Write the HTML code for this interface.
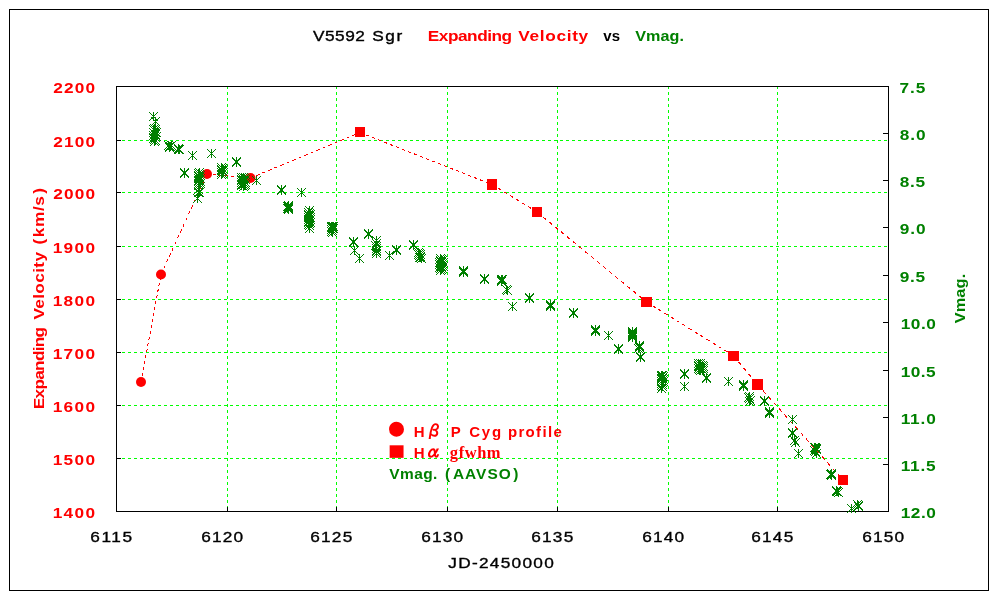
<!DOCTYPE html>
<html lang="en"><head><meta charset="utf-8"><title>V5592 Sgr Expanding Velocity vs Vmag.</title>
<style>
html,body{margin:0;padding:0;background:#fff;}
body{width:1000px;height:600px;overflow:hidden;position:relative;}
svg{position:absolute;left:0;top:0;display:block;}
text{font-family:"Liberation Sans","IPAGothic",sans-serif;font-size:15px;white-space:pre;}
.b{font-weight:bold;}
.r{fill:#ff0000;}
.g{fill:#008000;}
.k{fill:#000000;}
.n{stroke:#000;stroke-width:0.35px;}
.gr{font-family:"IPAGothic","Liberation Sans",sans-serif;font-weight:bold;font-size:17px;}
.sf{font-family:"Liberation Serif","IPAGothic",serif;font-weight:bold;font-size:16.5px;}
.mk{font-family:"IPAGothic","Liberation Sans",sans-serif;font-size:18px;}
</style></head><body>
<svg width="1000" height="600" viewBox="0 0 1000 600">
<rect x="0" y="0" width="1000" height="600" fill="#ffffff"/>
<g shape-rendering="crispEdges" fill="none" stroke="#000" stroke-width="1">
<rect x="9.5" y="9.5" width="979" height="581"/>
</g>
<g shape-rendering="crispEdges" fill="none" stroke="#00ff00" stroke-width="1" stroke-dasharray="3 3">
<line x1="227.5" y1="86" x2="227.5" y2="511"/>
<line x1="336.5" y1="86" x2="336.5" y2="511"/>
<line x1="447.5" y1="86" x2="447.5" y2="511"/>
<line x1="557.5" y1="86" x2="557.5" y2="511"/>
<line x1="668.5" y1="86" x2="668.5" y2="511"/>
<line x1="777.5" y1="86" x2="777.5" y2="511"/>
<line x1="116" y1="140.5" x2="888" y2="140.5"/>
<line x1="116" y1="192.5" x2="888" y2="192.5"/>
<line x1="116" y1="246.5" x2="888" y2="246.5"/>
<line x1="116" y1="299.5" x2="888" y2="299.5"/>
<line x1="116" y1="352.5" x2="888" y2="352.5"/>
<line x1="116" y1="405.5" x2="888" y2="405.5"/>
<line x1="116" y1="458.5" x2="888" y2="458.5"/>
</g>
<g shape-rendering="crispEdges" fill="none" stroke="#000" stroke-width="1">
<rect x="116.5" y="86.5" width="772.0" height="425.0"/>
<line x1="117" y1="140.5" x2="121" y2="140.5"/>
<line x1="117" y1="192.5" x2="121" y2="192.5"/>
<line x1="117" y1="246.5" x2="121" y2="246.5"/>
<line x1="117" y1="299.5" x2="121" y2="299.5"/>
<line x1="117" y1="352.5" x2="121" y2="352.5"/>
<line x1="117" y1="405.5" x2="121" y2="405.5"/>
<line x1="117" y1="458.5" x2="121" y2="458.5"/>
<line x1="227.5" y1="507" x2="227.5" y2="511"/>
<line x1="336.5" y1="507" x2="336.5" y2="511"/>
<line x1="447.5" y1="507" x2="447.5" y2="511"/>
<line x1="557.5" y1="507" x2="557.5" y2="511"/>
<line x1="668.5" y1="507" x2="668.5" y2="511"/>
<line x1="777.5" y1="507" x2="777.5" y2="511"/>
<line x1="883" y1="133.5" x2="888" y2="133.5"/>
<line x1="883" y1="180.5" x2="888" y2="180.5"/>
<line x1="883" y1="227.5" x2="888" y2="227.5"/>
<line x1="883" y1="275.5" x2="888" y2="275.5"/>
<line x1="883" y1="322.5" x2="888" y2="322.5"/>
<line x1="883" y1="370.5" x2="888" y2="370.5"/>
<line x1="883" y1="417.5" x2="888" y2="417.5"/>
<line x1="883" y1="464.5" x2="888" y2="464.5"/>
</g>
<g fill="none" stroke="#ff0000" stroke-width="1" shape-rendering="crispEdges">
<line x1="141.0" y1="382.0" x2="161.0" y2="274.5" stroke-dasharray="3.05 3.05"/>
<line x1="161.0" y1="274.5" x2="207.0" y2="174.0" stroke-dasharray="3.30 3.30"/>
<line x1="207.0" y1="174.0" x2="250.5" y2="178.0" stroke-dasharray="3.01 3.01"/>
<line x1="250.5" y1="178.0" x2="360.0" y2="132.6" stroke-dasharray="3.25 3.25"/>
<line x1="360.0" y1="132.6" x2="492.0" y2="184.5" stroke-dasharray="3.22 3.22"/>
<line x1="492.0" y1="184.5" x2="537.0" y2="212.0" stroke-dasharray="3.52 3.52"/>
<line x1="537.0" y1="212.0" x2="646.5" y2="302.0" stroke-dasharray="3.88 3.88"/>
<line x1="646.5" y1="302.0" x2="733.5" y2="355.8" stroke-dasharray="3.53 3.53"/>
<line x1="733.5" y1="355.8" x2="757.5" y2="384.5" stroke-dasharray="3.91 3.91"/>
<line x1="757.5" y1="384.5" x2="843.0" y2="480.0" stroke-dasharray="4.03 4.03"/>
</g>
<g fill="#ff0000">
<circle cx="141" cy="382" r="5"/>
<circle cx="161" cy="274.5" r="5"/>
<circle cx="207" cy="174" r="5"/>
<circle cx="250.5" cy="178" r="5"/>
</g><g fill="#ff0000" shape-rendering="crispEdges">
<rect x="355" y="127" width="10" height="10"/>
<rect x="487" y="179" width="10" height="11"/>
<rect x="532" y="207" width="10" height="10"/>
<rect x="641" y="297" width="11" height="10"/>
<rect x="728" y="351" width="11" height="10"/>
<rect x="752" y="379" width="11" height="11"/>
<rect x="838" y="475" width="10" height="10"/>
</g>
<path d="M153.5,112.0v9M149.0,112.0l9,9M149.0,121.0l9,-9M153.5,125.0v9M149.0,125.0l9,9M149.0,134.0l9,-9M153.5,128.0v9M149.0,128.0l9,9M149.0,137.0l9,-9M153.5,131.0v9M149.0,131.0l9,9M149.0,140.0l9,-9M153.5,134.0v9M149.0,134.0l9,9M149.0,143.0l9,-9M154.5,124.0v9M150.0,124.0l9,9M150.0,133.0l9,-9M154.5,126.0v9M150.0,126.0l9,9M150.0,135.0l9,-9M154.5,129.0v9M150.0,129.0l9,9M150.0,138.0l9,-9M154.5,132.0v9M150.0,132.0l9,9M150.0,141.0l9,-9M154.5,135.0v9M150.0,135.0l9,9M150.0,144.0l9,-9M154.5,137.0v9M150.0,137.0l9,9M150.0,146.0l9,-9M155.5,117.0v9M151.0,117.0l9,9M151.0,126.0l9,-9M155.5,125.0v9M151.0,125.0l9,9M151.0,134.0l9,-9M155.5,127.0v9M151.0,127.0l9,9M151.0,136.0l9,-9M155.5,130.0v9M151.0,130.0l9,9M151.0,139.0l9,-9M155.5,133.0v9M151.0,133.0l9,9M151.0,142.0l9,-9M155.5,136.0v9M151.0,136.0l9,9M151.0,145.0l9,-9M156.5,128.0v9M152.0,128.0l9,9M152.0,137.0l9,-9M156.5,132.0v9M152.0,132.0l9,9M152.0,141.0l9,-9M168.5,141.0v9M164.0,141.0l9,9M164.0,150.0l9,-9M169.5,142.0v9M165.0,142.0l9,9M165.0,151.0l9,-9M169.5,143.0v9M165.0,143.0l9,9M165.0,152.0l9,-9M170.5,142.0v9M166.0,142.0l9,9M166.0,151.0l9,-9M171.5,141.0v9M167.0,141.0l9,9M167.0,150.0l9,-9M178.5,144.0v9M174.0,144.0l9,9M174.0,153.0l9,-9M178.5,145.0v9M174.0,145.0l9,9M174.0,154.0l9,-9M179.5,145.0v9M175.0,145.0l9,9M175.0,154.0l9,-9M184.5,168.0v9M180.0,168.0l9,9M180.0,177.0l9,-9M184.5,169.0v9M180.0,169.0l9,9M180.0,178.0l9,-9M192.5,151.0v9M188.0,151.0l9,9M188.0,160.0l9,-9M197.5,194.0v9M193.0,194.0l9,9M193.0,203.0l9,-9M198.5,169.0v9M194.0,169.0l9,9M194.0,178.0l9,-9M198.5,171.0v9M194.0,171.0l9,9M194.0,180.0l9,-9M198.5,172.0v9M194.0,172.0l9,9M194.0,181.0l9,-9M198.5,174.0v9M194.0,174.0l9,9M194.0,183.0l9,-9M198.5,176.0v9M194.0,176.0l9,9M194.0,185.0l9,-9M198.5,177.0v9M194.0,177.0l9,9M194.0,186.0l9,-9M198.5,179.0v9M194.0,179.0l9,9M194.0,188.0l9,-9M198.5,181.0v9M194.0,181.0l9,9M194.0,190.0l9,-9M198.5,185.0v9M194.0,185.0l9,9M194.0,194.0l9,-9M198.5,188.0v9M194.0,188.0l9,9M194.0,197.0l9,-9M199.5,168.0v9M195.0,168.0l9,9M195.0,177.0l9,-9M199.5,170.0v9M195.0,170.0l9,9M195.0,179.0l9,-9M199.5,173.0v9M195.0,173.0l9,9M195.0,182.0l9,-9M199.5,175.0v9M195.0,175.0l9,9M195.0,184.0l9,-9M199.5,178.0v9M195.0,178.0l9,9M195.0,187.0l9,-9M199.5,180.0v9M195.0,180.0l9,9M195.0,189.0l9,-9M199.5,188.0v9M195.0,188.0l9,9M195.0,197.0l9,-9M200.5,171.0v9M196.0,171.0l9,9M196.0,180.0l9,-9M200.5,174.0v9M196.0,174.0l9,9M196.0,183.0l9,-9M200.5,177.0v9M196.0,177.0l9,9M196.0,186.0l9,-9M200.5,179.0v9M196.0,179.0l9,9M196.0,188.0l9,-9M211.5,149.0v9M207.0,149.0l9,9M207.0,158.0l9,-9M221.5,163.0v9M217.0,163.0l9,9M217.0,172.0l9,-9M221.5,165.0v9M217.0,165.0l9,9M217.0,174.0l9,-9M221.5,166.0v9M217.0,166.0l9,9M217.0,175.0l9,-9M221.5,168.0v9M217.0,168.0l9,9M217.0,177.0l9,-9M221.5,170.0v9M217.0,170.0l9,9M217.0,179.0l9,-9M222.5,164.0v9M218.0,164.0l9,9M218.0,173.0l9,-9M222.5,166.0v9M218.0,166.0l9,9M218.0,175.0l9,-9M222.5,167.0v9M218.0,167.0l9,9M218.0,176.0l9,-9M222.5,169.0v9M218.0,169.0l9,9M218.0,178.0l9,-9M223.5,165.0v9M219.0,165.0l9,9M219.0,174.0l9,-9M223.5,168.0v9M219.0,168.0l9,9M219.0,177.0l9,-9M236.5,157.0v9M232.0,157.0l9,9M232.0,166.0l9,-9M236.5,158.0v9M232.0,158.0l9,9M232.0,167.0l9,-9M241.5,173.0v9M237.0,173.0l9,9M237.0,182.0l9,-9M241.5,175.0v9M237.0,175.0l9,9M237.0,184.0l9,-9M241.5,176.0v9M237.0,176.0l9,9M237.0,185.0l9,-9M241.5,178.0v9M237.0,178.0l9,9M237.0,187.0l9,-9M241.5,180.0v9M237.0,180.0l9,9M237.0,189.0l9,-9M241.5,181.0v9M237.0,181.0l9,9M237.0,190.0l9,-9M242.5,174.0v9M238.0,174.0l9,9M238.0,183.0l9,-9M242.5,177.0v9M238.0,177.0l9,9M238.0,186.0l9,-9M242.5,179.0v9M238.0,179.0l9,9M238.0,188.0l9,-9M243.5,173.0v9M239.0,173.0l9,9M239.0,182.0l9,-9M243.5,175.0v9M239.0,175.0l9,9M239.0,184.0l9,-9M243.5,176.0v9M239.0,176.0l9,9M239.0,185.0l9,-9M243.5,178.0v9M239.0,178.0l9,9M239.0,187.0l9,-9M243.5,180.0v9M239.0,180.0l9,9M239.0,189.0l9,-9M243.5,182.0v9M239.0,182.0l9,9M239.0,191.0l9,-9M244.5,174.0v9M240.0,174.0l9,9M240.0,183.0l9,-9M244.5,177.0v9M240.0,177.0l9,9M240.0,186.0l9,-9M244.5,179.0v9M240.0,179.0l9,9M240.0,188.0l9,-9M244.5,181.0v9M240.0,181.0l9,9M240.0,190.0l9,-9M245.5,175.0v9M241.0,175.0l9,9M241.0,184.0l9,-9M245.5,178.0v9M241.0,178.0l9,9M241.0,187.0l9,-9M245.5,180.0v9M241.0,180.0l9,9M241.0,189.0l9,-9M256.5,176.0v9M252.0,176.0l9,9M252.0,185.0l9,-9M281.5,185.0v9M277.0,185.0l9,9M277.0,194.0l9,-9M281.5,186.0v9M277.0,186.0l9,9M277.0,195.0l9,-9M287.5,202.0v9M283.0,202.0l9,9M283.0,211.0l9,-9M287.5,204.0v9M283.0,204.0l9,9M283.0,213.0l9,-9M288.5,201.0v9M284.0,201.0l9,9M284.0,210.0l9,-9M288.5,202.0v9M284.0,202.0l9,9M284.0,211.0l9,-9M288.5,203.0v9M284.0,203.0l9,9M284.0,212.0l9,-9M288.5,204.0v9M284.0,204.0l9,9M284.0,213.0l9,-9M288.5,205.0v9M284.0,205.0l9,9M284.0,214.0l9,-9M301.5,188.0v9M297.0,188.0l9,9M297.0,197.0l9,-9M308.5,208.0v9M304.0,208.0l9,9M304.0,217.0l9,-9M308.5,210.0v9M304.0,210.0l9,9M304.0,219.0l9,-9M308.5,211.0v9M304.0,211.0l9,9M304.0,220.0l9,-9M308.5,213.0v9M304.0,213.0l9,9M304.0,222.0l9,-9M308.5,215.0v9M304.0,215.0l9,9M304.0,224.0l9,-9M308.5,217.0v9M304.0,217.0l9,9M304.0,226.0l9,-9M308.5,218.0v9M304.0,218.0l9,9M304.0,227.0l9,-9M308.5,220.0v9M304.0,220.0l9,9M304.0,229.0l9,-9M309.5,206.0v9M305.0,206.0l9,9M305.0,215.0l9,-9M309.5,209.0v9M305.0,209.0l9,9M305.0,218.0l9,-9M309.5,212.0v9M305.0,212.0l9,9M305.0,221.0l9,-9M309.5,214.0v9M305.0,214.0l9,9M305.0,223.0l9,-9M309.5,216.0v9M305.0,216.0l9,9M305.0,225.0l9,-9M309.5,219.0v9M305.0,219.0l9,9M305.0,228.0l9,-9M309.5,221.0v9M305.0,221.0l9,9M305.0,230.0l9,-9M309.5,224.0v9M305.0,224.0l9,9M305.0,233.0l9,-9M310.5,210.0v9M306.0,210.0l9,9M306.0,219.0l9,-9M310.5,213.0v9M306.0,213.0l9,9M306.0,222.0l9,-9M310.5,215.0v9M306.0,215.0l9,9M306.0,224.0l9,-9M310.5,218.0v9M306.0,218.0l9,9M306.0,227.0l9,-9M331.5,222.0v9M327.0,222.0l9,9M327.0,231.0l9,-9M331.5,223.0v9M327.0,223.0l9,9M327.0,232.0l9,-9M331.5,225.0v9M327.0,225.0l9,9M327.0,234.0l9,-9M331.5,227.0v9M327.0,227.0l9,9M327.0,236.0l9,-9M332.5,222.0v9M328.0,222.0l9,9M328.0,231.0l9,-9M332.5,223.0v9M328.0,223.0l9,9M328.0,232.0l9,-9M332.5,224.0v9M328.0,224.0l9,9M328.0,233.0l9,-9M332.5,226.0v9M328.0,226.0l9,9M328.0,235.0l9,-9M332.5,228.0v9M328.0,228.0l9,9M328.0,237.0l9,-9M333.5,222.0v9M329.0,222.0l9,9M329.0,231.0l9,-9M333.5,224.0v9M329.0,224.0l9,9M329.0,233.0l9,-9M353.5,237.0v9M349.0,237.0l9,9M349.0,246.0l9,-9M353.5,238.0v9M349.0,238.0l9,9M349.0,247.0l9,-9M354.5,246.0v9M350.0,246.0l9,9M350.0,255.0l9,-9M359.5,254.0v9M355.0,254.0l9,9M355.0,263.0l9,-9M368.5,229.0v9M364.0,229.0l9,9M364.0,238.0l9,-9M368.5,230.0v9M364.0,230.0l9,9M364.0,239.0l9,-9M375.5,241.0v9M371.0,241.0l9,9M371.0,250.0l9,-9M376.5,236.0v9M372.0,236.0l9,9M372.0,245.0l9,-9M376.5,239.0v9M372.0,239.0l9,9M372.0,248.0l9,-9M376.5,242.0v9M372.0,242.0l9,9M372.0,251.0l9,-9M376.5,244.0v9M372.0,244.0l9,9M372.0,253.0l9,-9M376.5,246.0v9M372.0,246.0l9,9M372.0,255.0l9,-9M376.5,247.0v9M372.0,247.0l9,9M372.0,256.0l9,-9M376.5,249.0v9M372.0,249.0l9,9M372.0,258.0l9,-9M389.5,251.0v9M385.0,251.0l9,9M385.0,260.0l9,-9M396.5,245.0v9M392.0,245.0l9,9M392.0,254.0l9,-9M396.5,246.0v9M392.0,246.0l9,9M392.0,255.0l9,-9M413.5,240.0v9M409.0,240.0l9,9M409.0,249.0l9,-9M413.5,241.0v9M409.0,241.0l9,9M409.0,250.0l9,-9M418.5,248.0v9M414.0,248.0l9,9M414.0,257.0l9,-9M418.5,250.0v9M414.0,250.0l9,9M414.0,259.0l9,-9M419.5,249.0v9M415.0,249.0l9,9M415.0,258.0l9,-9M419.5,251.0v9M415.0,251.0l9,9M415.0,260.0l9,-9M419.5,253.0v9M415.0,253.0l9,9M415.0,262.0l9,-9M420.5,250.0v9M416.0,250.0l9,9M416.0,259.0l9,-9M420.5,252.0v9M416.0,252.0l9,9M416.0,261.0l9,-9M420.5,253.0v9M416.0,253.0l9,9M416.0,262.0l9,-9M421.5,254.0v9M417.0,254.0l9,9M417.0,263.0l9,-9M439.5,258.0v9M435.0,258.0l9,9M435.0,267.0l9,-9M439.5,260.0v9M435.0,260.0l9,9M435.0,269.0l9,-9M439.5,263.0v9M435.0,263.0l9,9M435.0,272.0l9,-9M440.5,254.0v9M436.0,254.0l9,9M436.0,263.0l9,-9M440.5,256.0v9M436.0,256.0l9,9M436.0,265.0l9,-9M440.5,257.0v9M436.0,257.0l9,9M436.0,266.0l9,-9M440.5,259.0v9M436.0,259.0l9,9M436.0,268.0l9,-9M440.5,261.0v9M436.0,261.0l9,9M436.0,270.0l9,-9M440.5,262.0v9M436.0,262.0l9,9M436.0,271.0l9,-9M440.5,264.0v9M436.0,264.0l9,9M436.0,273.0l9,-9M440.5,266.0v9M436.0,266.0l9,9M436.0,275.0l9,-9M441.5,255.0v9M437.0,255.0l9,9M437.0,264.0l9,-9M441.5,257.0v9M437.0,257.0l9,9M437.0,266.0l9,-9M441.5,258.0v9M437.0,258.0l9,9M437.0,267.0l9,-9M441.5,260.0v9M437.0,260.0l9,9M437.0,269.0l9,-9M441.5,262.0v9M437.0,262.0l9,9M437.0,271.0l9,-9M441.5,263.0v9M437.0,263.0l9,9M437.0,272.0l9,-9M441.5,265.0v9M437.0,265.0l9,9M437.0,274.0l9,-9M442.5,256.0v9M438.0,256.0l9,9M438.0,265.0l9,-9M442.5,259.0v9M438.0,259.0l9,9M438.0,268.0l9,-9M442.5,261.0v9M438.0,261.0l9,9M438.0,270.0l9,-9M442.5,264.0v9M438.0,264.0l9,9M438.0,273.0l9,-9M443.5,258.0v9M439.0,258.0l9,9M439.0,267.0l9,-9M443.5,262.0v9M439.0,262.0l9,9M439.0,271.0l9,-9M463.5,266.0v9M459.0,266.0l9,9M459.0,275.0l9,-9M463.5,267.0v9M459.0,267.0l9,9M459.0,276.0l9,-9M463.5,268.0v9M459.0,268.0l9,9M459.0,277.0l9,-9M484.5,274.0v9M480.0,274.0l9,9M480.0,283.0l9,-9M484.5,275.0v9M480.0,275.0l9,9M480.0,284.0l9,-9M501.5,275.0v9M497.0,275.0l9,9M497.0,284.0l9,-9M501.5,276.0v9M497.0,276.0l9,9M497.0,285.0l9,-9M501.5,277.0v9M497.0,277.0l9,9M497.0,286.0l9,-9M502.5,275.0v9M498.0,275.0l9,9M498.0,284.0l9,-9M506.5,285.0v9M502.0,285.0l9,9M502.0,294.0l9,-9M507.5,286.0v9M503.0,286.0l9,9M503.0,295.0l9,-9M512.5,302.0v9M508.0,302.0l9,9M508.0,311.0l9,-9M529.5,293.0v9M525.0,293.0l9,9M525.0,302.0l9,-9M529.5,294.0v9M525.0,294.0l9,9M525.0,303.0l9,-9M550.5,300.0v9M546.0,300.0l9,9M546.0,309.0l9,-9M550.5,301.0v9M546.0,301.0l9,9M546.0,310.0l9,-9M550.5,302.0v9M546.0,302.0l9,9M546.0,311.0l9,-9M573.5,308.0v9M569.0,308.0l9,9M569.0,317.0l9,-9M573.5,309.0v9M569.0,309.0l9,9M569.0,318.0l9,-9M595.5,325.0v9M591.0,325.0l9,9M591.0,334.0l9,-9M595.5,326.0v9M591.0,326.0l9,9M591.0,335.0l9,-9M595.5,327.0v9M591.0,327.0l9,9M591.0,336.0l9,-9M608.5,331.0v9M604.0,331.0l9,9M604.0,340.0l9,-9M618.5,344.0v9M614.0,344.0l9,9M614.0,353.0l9,-9M618.5,345.0v9M614.0,345.0l9,9M614.0,354.0l9,-9M632.5,327.0v9M628.0,327.0l9,9M628.0,336.0l9,-9M632.5,328.0v9M628.0,328.0l9,9M628.0,337.0l9,-9M632.5,329.0v9M628.0,329.0l9,9M628.0,338.0l9,-9M632.5,330.0v9M628.0,330.0l9,9M628.0,339.0l9,-9M632.5,331.0v9M628.0,331.0l9,9M628.0,340.0l9,-9M632.5,332.0v9M628.0,332.0l9,9M628.0,341.0l9,-9M632.5,333.0v9M628.0,333.0l9,9M628.0,342.0l9,-9M638.5,344.0v9M634.0,344.0l9,9M634.0,353.0l9,-9M639.5,341.0v9M635.0,341.0l9,9M635.0,350.0l9,-9M639.5,342.0v9M635.0,342.0l9,9M635.0,351.0l9,-9M639.5,343.0v9M635.0,343.0l9,9M635.0,352.0l9,-9M640.5,352.0v9M636.0,352.0l9,9M636.0,361.0l9,-9M640.5,353.0v9M636.0,353.0l9,9M636.0,362.0l9,-9M661.5,371.0v9M657.0,371.0l9,9M657.0,380.0l9,-9M661.5,372.0v9M657.0,372.0l9,9M657.0,381.0l9,-9M661.5,374.0v9M657.0,374.0l9,9M657.0,383.0l9,-9M661.5,375.0v9M657.0,375.0l9,9M657.0,384.0l9,-9M661.5,377.0v9M657.0,377.0l9,9M657.0,386.0l9,-9M661.5,379.0v9M657.0,379.0l9,9M657.0,388.0l9,-9M661.5,381.0v9M657.0,381.0l9,9M657.0,390.0l9,-9M661.5,384.0v9M657.0,384.0l9,9M657.0,393.0l9,-9M662.5,371.0v9M658.0,371.0l9,9M658.0,380.0l9,-9M662.5,373.0v9M658.0,373.0l9,9M658.0,382.0l9,-9M662.5,374.0v9M658.0,374.0l9,9M658.0,383.0l9,-9M662.5,376.0v9M658.0,376.0l9,9M658.0,385.0l9,-9M662.5,378.0v9M658.0,378.0l9,9M658.0,387.0l9,-9M662.5,380.0v9M658.0,380.0l9,9M658.0,389.0l9,-9M662.5,382.0v9M658.0,382.0l9,9M658.0,391.0l9,-9M663.5,372.0v9M659.0,372.0l9,9M659.0,381.0l9,-9M663.5,375.0v9M659.0,375.0l9,9M659.0,384.0l9,-9M663.5,377.0v9M659.0,377.0l9,9M659.0,386.0l9,-9M684.5,369.0v9M680.0,369.0l9,9M680.0,378.0l9,-9M684.5,370.0v9M680.0,370.0l9,9M680.0,379.0l9,-9M684.5,382.0v9M680.0,382.0l9,9M680.0,391.0l9,-9M698.5,359.0v9M694.0,359.0l9,9M694.0,368.0l9,-9M698.5,361.0v9M694.0,361.0l9,9M694.0,370.0l9,-9M698.5,362.0v9M694.0,362.0l9,9M694.0,371.0l9,-9M698.5,364.0v9M694.0,364.0l9,9M694.0,373.0l9,-9M699.5,360.0v9M695.0,360.0l9,9M695.0,369.0l9,-9M699.5,362.0v9M695.0,362.0l9,9M695.0,371.0l9,-9M699.5,363.0v9M695.0,363.0l9,9M695.0,372.0l9,-9M699.5,365.0v9M695.0,365.0l9,9M695.0,374.0l9,-9M700.5,359.0v9M696.0,359.0l9,9M696.0,368.0l9,-9M700.5,361.0v9M696.0,361.0l9,9M696.0,370.0l9,-9M700.5,364.0v9M696.0,364.0l9,9M696.0,373.0l9,-9M700.5,366.0v9M696.0,366.0l9,9M696.0,375.0l9,-9M702.5,361.0v9M698.0,361.0l9,9M698.0,370.0l9,-9M702.5,363.0v9M698.0,363.0l9,9M698.0,372.0l9,-9M702.5,365.0v9M698.0,365.0l9,9M698.0,374.0l9,-9M703.5,362.0v9M699.0,362.0l9,9M699.0,371.0l9,-9M703.5,364.0v9M699.0,364.0l9,9M699.0,373.0l9,-9M703.5,366.0v9M699.0,366.0l9,9M699.0,375.0l9,-9M706.5,373.0v9M702.0,373.0l9,9M702.0,382.0l9,-9M706.5,374.0v9M702.0,374.0l9,9M702.0,383.0l9,-9M728.5,377.0v9M724.0,377.0l9,9M724.0,386.0l9,-9M743.5,380.0v9M739.0,380.0l9,9M739.0,389.0l9,-9M743.5,381.0v9M739.0,381.0l9,9M739.0,390.0l9,-9M743.5,382.0v9M739.0,382.0l9,9M739.0,391.0l9,-9M748.5,393.0v9M744.0,393.0l9,9M744.0,402.0l9,-9M749.5,392.0v9M745.0,392.0l9,9M745.0,401.0l9,-9M749.5,394.0v9M745.0,394.0l9,9M745.0,403.0l9,-9M749.5,397.0v9M745.0,397.0l9,9M745.0,406.0l9,-9M750.5,396.0v9M746.0,396.0l9,9M746.0,405.0l9,-9M764.5,396.0v9M760.0,396.0l9,9M760.0,405.0l9,-9M764.5,397.0v9M760.0,397.0l9,9M760.0,406.0l9,-9M769.5,407.0v9M765.0,407.0l9,9M765.0,416.0l9,-9M769.5,408.0v9M765.0,408.0l9,9M765.0,417.0l9,-9M769.5,409.0v9M765.0,409.0l9,9M765.0,418.0l9,-9M792.5,415.0v9M788.0,415.0l9,9M788.0,424.0l9,-9M792.5,428.0v9M788.0,428.0l9,9M788.0,437.0l9,-9M792.5,429.0v9M788.0,429.0l9,9M788.0,438.0l9,-9M794.5,436.0v9M790.0,436.0l9,9M790.0,445.0l9,-9M795.5,438.0v9M791.0,438.0l9,9M791.0,447.0l9,-9M798.5,449.0v9M794.0,449.0l9,9M794.0,458.0l9,-9M814.5,443.0v9M810.0,443.0l9,9M810.0,452.0l9,-9M814.5,446.0v9M810.0,446.0l9,9M810.0,455.0l9,-9M815.5,443.0v9M811.0,443.0l9,9M811.0,452.0l9,-9M815.5,444.0v9M811.0,444.0l9,9M811.0,453.0l9,-9M815.5,447.0v9M811.0,447.0l9,9M811.0,456.0l9,-9M816.5,444.0v9M812.0,444.0l9,9M812.0,453.0l9,-9M816.5,445.0v9M812.0,445.0l9,9M812.0,454.0l9,-9M816.5,449.0v9M812.0,449.0l9,9M812.0,458.0l9,-9M830.5,470.0v9M826.0,470.0l9,9M826.0,479.0l9,-9M831.5,469.0v9M827.0,469.0l9,9M827.0,478.0l9,-9M831.5,470.0v9M827.0,470.0l9,9M827.0,479.0l9,-9M831.5,471.0v9M827.0,471.0l9,9M827.0,480.0l9,-9M836.5,486.0v9M832.0,486.0l9,9M832.0,495.0l9,-9M836.5,487.0v9M832.0,487.0l9,9M832.0,496.0l9,-9M837.5,487.0v9M833.0,487.0l9,9M833.0,496.0l9,-9M838.5,488.0v9M834.0,488.0l9,9M834.0,497.0l9,-9M851.5,504.0v9M847.0,504.0l9,9M847.0,513.0l9,-9M857.5,500.0v9M853.0,500.0l9,9M853.0,509.0l9,-9M858.5,501.0v9M854.0,501.0l9,9M854.0,510.0l9,-9M858.5,502.0v9M854.0,502.0l9,9M854.0,511.0l9,-9" fill="none" stroke="#008000" stroke-width="1" stroke-linecap="butt"/>
<text class="mk r" x="387.6" y="436.4">●</text>
<text class="mk r" transform="translate(387.2,457.7) scale(1.04,0.94)">■</text>
<text id="t1" class="k n" transform="translate(313.40,41.00) scale(1.1500,1.0300)"><tspan x="-0.29" letter-spacing="0.415">V5592 </tspan><tspan x="51.16" letter-spacing="1.383">Sgr</tspan></text>
<text id="t2" class="b r" transform="translate(429.00,41.00) scale(1.1500,1.0300)"><tspan x="-1.00" letter-spacing="-0.422">Expanding </tspan><tspan x="77.60" letter-spacing="0.598">Velocity</tspan></text>
<text id="t3" class="b k" transform="translate(603.40,41.00) scale(1.0000,1.0300)"><tspan x="-0.26" letter-spacing="0.188">vs</tspan></text>
<text id="t4" class="b g" transform="translate(635.60,41.00) scale(1.0800,1.0300)"><tspan x="-0.32" letter-spacing="0.041">Vmag.</tspan></text>
<text id="yl0" class="b r" transform="translate(53.80,92.90) scale(1.1500,1.0300)"><tspan x="-0.53" letter-spacing="1.025">2200</tspan></text>
<text id="yl1" class="b r" transform="translate(53.80,146.90) scale(1.1500,1.0300)"><tspan x="-0.53" letter-spacing="1.025">2100</tspan></text>
<text id="yl2" class="b r" transform="translate(53.80,198.90) scale(1.1500,1.0300)"><tspan x="-0.53" letter-spacing="1.025">2000</tspan></text>
<text id="yl3" class="b r" transform="translate(53.80,252.90) scale(1.1500,1.0300)"><tspan x="-1.00" letter-spacing="1.172">1900</tspan></text>
<text id="yl4" class="b r" transform="translate(53.80,305.90) scale(1.1500,1.0300)"><tspan x="-1.00" letter-spacing="1.172">1800</tspan></text>
<text id="yl5" class="b r" transform="translate(53.80,358.90) scale(1.1500,1.0300)"><tspan x="-1.00" letter-spacing="1.172">1700</tspan></text>
<text id="yl6" class="b r" transform="translate(53.80,411.90) scale(1.1500,1.0300)"><tspan x="-1.00" letter-spacing="1.172">1600</tspan></text>
<text id="yl7" class="b r" transform="translate(53.80,464.90) scale(1.1500,1.0300)"><tspan x="-1.00" letter-spacing="1.172">1500</tspan></text>
<text id="yl8" class="b r" transform="translate(53.80,517.90) scale(1.1500,1.0300)"><tspan x="-1.00" letter-spacing="1.172">1400</tspan></text>
<text id="yr0" class="b g" transform="translate(900.30,92.90) scale(1.1500,1.0300)"><tspan x="-0.64" letter-spacing="0.747">7.5</tspan></text>
<text id="yr1" class="b g" transform="translate(900.30,139.90) scale(1.1500,1.0300)"><tspan x="-0.58" letter-spacing="0.835">8.0</tspan></text>
<text id="yr2" class="b g" transform="translate(900.30,186.90) scale(1.1500,1.0300)"><tspan x="-0.58" letter-spacing="0.680">8.5</tspan></text>
<text id="yr3" class="b g" transform="translate(900.30,233.90) scale(1.1500,1.0300)"><tspan x="-0.58" letter-spacing="0.835">9.0</tspan></text>
<text id="yr4" class="b g" transform="translate(900.30,281.90) scale(1.1500,1.0300)"><tspan x="-0.58" letter-spacing="0.680">9.5</tspan></text>
<text id="yr5" class="b g" transform="translate(901.80,328.90) scale(1.1500,1.0300)"><tspan x="-1.00" letter-spacing="0.465">10.0</tspan></text>
<text id="yr6" class="b g" transform="translate(901.80,376.90) scale(1.1500,1.0300)"><tspan x="-1.00" letter-spacing="0.424">10.5</tspan></text>
<text id="yr7" class="b g" transform="translate(901.80,423.90) scale(1.1500,1.0300)"><tspan x="-1.00" letter-spacing="0.718">11.0</tspan></text>
<text id="yr8" class="b g" transform="translate(901.80,470.90) scale(1.1500,1.0300)"><tspan x="-1.00" letter-spacing="0.676">11.5</tspan></text>
<text id="yr9" class="b g" transform="translate(901.80,517.90) scale(1.1500,1.0300)"><tspan x="-1.00" letter-spacing="0.465">12.0</tspan></text>
<text id="xl0" class="k n" transform="translate(91.40,541.70) scale(1.1500,1.0300)"><tspan x="-1.00" letter-spacing="1.393">6115</tspan></text>
<text id="xl1" class="k n" transform="translate(202.40,541.70) scale(1.1500,1.0300)"><tspan x="-1.00" letter-spacing="1.019">6120</tspan></text>
<text id="xl2" class="k n" transform="translate(311.40,541.70) scale(1.1500,1.0300)"><tspan x="-1.00" letter-spacing="1.059">6125</tspan></text>
<text id="xl3" class="k n" transform="translate(422.40,541.70) scale(1.1500,1.0300)"><tspan x="-1.00" letter-spacing="1.019">6130</tspan></text>
<text id="xl4" class="k n" transform="translate(532.40,541.70) scale(1.1500,1.0300)"><tspan x="-1.00" letter-spacing="1.059">6135</tspan></text>
<text id="xl5" class="k n" transform="translate(643.40,541.70) scale(1.1500,1.0300)"><tspan x="-1.00" letter-spacing="1.019">6140</tspan></text>
<text id="xl6" class="k n" transform="translate(752.40,541.70) scale(1.1500,1.0300)"><tspan x="-1.00" letter-spacing="1.059">6145</tspan></text>
<text id="xl7" class="k n" transform="translate(863.40,541.70) scale(1.1500,1.0300)"><tspan x="-1.00" letter-spacing="1.019">6150</tspan></text>
<text id="xt" class="k n" transform="translate(449.00,568.00) scale(1.1500,1.0300)"><tspan x="-0.63" letter-spacing="1.126">JD-2450000</tspan></text>
<text id="lg1" class="b r" transform="translate(414.80,436.80) scale(1.0000,1.0300)"><tspan x="-1.00">H</tspan><tspan x="10.95" class="gr">β </tspan><tspan x="35.90">P </tspan><tspan x="54.41" letter-spacing="1.794">Cyg </tspan><tspan x="93.08" letter-spacing="1.361">profile</tspan></text>
<text id="lg2" class="b r" transform="translate(414.80,457.80) scale(1.0000,1.0300)"><tspan x="-1.00">H</tspan><tspan x="10.18" class="gr">α </tspan><tspan x="35.07" class="sf" letter-spacing="0.542">gfwhm</tspan></text>
<text id="lg3" class="b g" transform="translate(389.60,478.70) scale(1.0300,1.0300)"><tspan x="-0.32" letter-spacing="0.408">Vmag. </tspan><tspan x="53.76">(</tspan><tspan x="61.47" letter-spacing="1.000">AAVSO</tspan><tspan x="119.98">)</tspan></text>
<text id="yt" class="b r" transform="translate(44.00,408.10) rotate(-90) scale(1.1500,1.0300)"><tspan x="-1.00" letter-spacing="-0.624">Expanding </tspan><tspan x="76.99" letter-spacing="0.300">Velocity </tspan><tspan x="142.30">(</tspan><tspan x="148.59" letter-spacing="0.539">km/s</tspan><tspan x="186.47">)</tspan></text>
<text id="yt2" class="b g" transform="translate(965.30,323.00) rotate(-90) scale(1.0900,1.0300)"><tspan x="-0.32" letter-spacing="0.114">Vmag.</tspan></text>
</svg>
</body></html>
